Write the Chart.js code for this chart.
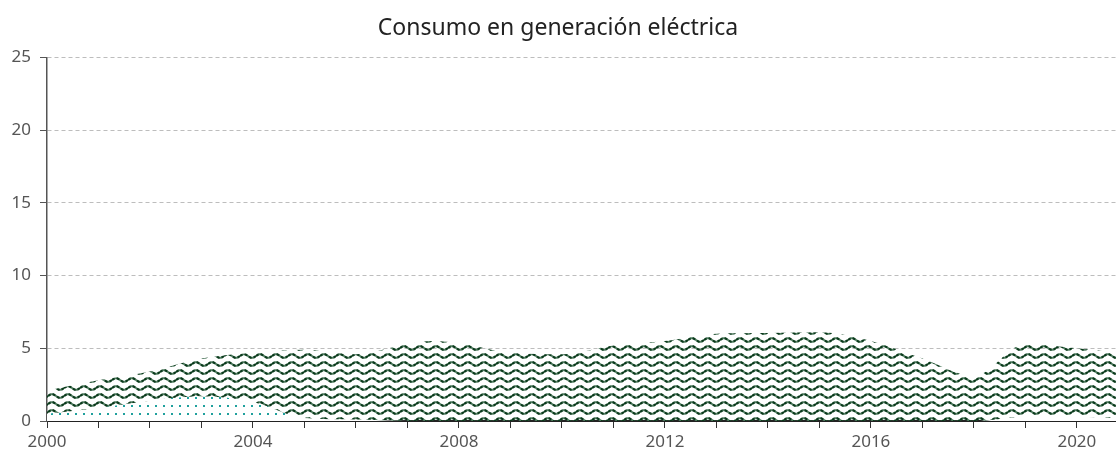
<!DOCTYPE html>
<html>
<head>
<meta charset="utf-8">
<script src="https://cdn.jsdelivr.net/npm/chart.js@4"></script>
<style>
  html, body { margin: 0; padding: 0; background: #fff; }
  #wrap { width: 1116px; height: 455px; }
</style>
</head>
<body>
<div id="wrap"><canvas id="chart"></canvas></div>
<script>
// ====== DATA ======
const years = [2000, 2001, 2002, 2003, 2004, 2005, 2006, 2007, 2007.5, 2008, 2009, 2010,
  2011, 2012, 2013, 2014, 2015, 2016, 2017, 2018, 2019, 2020, 2020.76];
const gasValues = [2.1, 2.8, 3.4, 4.3, 4.7, 4.9, 4.6, 5.3, 5.5, 5.35, 4.7, 4.6,
  5.2, 5.5, 6.0, 6.05, 6.1, 5.5, 4.3, 3.1, 5.3, 5.0, 4.7];
const fuelValues = [0.5, 0.9, 1.4, 1.7, 1.3, 0.2, 0.1, 0, 0, 0, 0, 0,
  0, 0, 0, 0, 0, 0, 0, 0, 0.3, 0.3, 0.2];
const tickYears = [2000, 2004, 2008, 2012, 2016, 2020];

const FONT = "'Noto Sans', 'Open Sans', sans-serif";

// ====== PATTERNS ======
function wavePattern() {
  const c = document.createElement("canvas");
  c.width = 16; c.height = 8;
  const g = c.getContext("2d");
  g.lineWidth = 2;
  g.beginPath();
  for (let x = 0; x <= 16; x += 0.5) {
    const y = 4 - 1.8 * Math.sin((x / 16) * Math.PI * 2);
    if (x === 0) g.moveTo(x, y); else g.lineTo(x, y);
  }
  g.strokeStyle = "#527f62";
  g.stroke();
  g.setLineDash([3, 2]);
  g.strokeStyle = "#0b3a1c";
  g.stroke();
  return g.createPattern(c, "repeat");
}

function dotPattern() {
  // opaque white ground so the waves underneath are hidden
  const c = document.createElement("canvas");
  c.width = 8; c.height = 8;
  const g = c.getContext("2d");
  g.fillStyle = "#fff";
  g.fillRect(0, 0, 8, 8);
  g.fillStyle = "#1fa09d";
  g.fillRect(3, 5, 2, 2);
  return g.createPattern(c, "repeat");
}

const gasData = years.map((x, i) => ({ x, y: gasValues[i] }));
const fuelData = years.map((x, i) => ({ x, y: fuelValues[i] }));

// ====== CHART ======
new Chart(document.getElementById("chart"), {
  type: "line",
  data: {
    datasets: [
      {
        label: "Fuelóleo",
        data: fuelData,
        fill: "origin",
        backgroundColor: dotPattern(),
        borderWidth: 0,
        pointRadius: 0,
        cubicInterpolationMode: "monotone"
      },
      {
        label: "Gas natural",
        data: gasData,
        fill: "origin",
        backgroundColor: wavePattern(),
        borderWidth: 0,
        pointRadius: 0,
        cubicInterpolationMode: "monotone"
      }
    ]
  },
  options: {
    responsive: true,
    maintainAspectRatio: false,
    animation: false,
    plugins: {
      legend: { display: false },
      tooltip: { enabled: false },
      title: {
        display: true,
        text: "Consumo en generación eléctrica",
        color: "#222",
        font: { family: FONT, size: 23, weight: "normal" },
        padding: { top: 15, bottom: 15 }
      }
    },
    scales: {
      x: {
        type: "linear",
        min: 2000,
        max: 2020.76,
        afterFit: s => { s.height = 34; },
        border: { color: "#222", width: 2 },
        grid: { drawOnChartArea: false, drawTicks: true, tickLength: 7, tickColor: "#333" },
        ticks: {
          stepSize: 1,
          autoSkip: false,
          includeBounds: false,
          maxRotation: 0,
          color: "#555",
          padding: 4,
          font: { family: FONT, size: 17 },
          callback: v => tickYears.includes(v) ? String(v) : ""
        }
      },
      y: {
        min: 0,
        max: 25,
        afterFit: s => { s.width = 47; },
        border: { color: "#555", width: 1.5, dash: [4, 3] },
        grid: { color: "#bdbdbd", tickColor: "#555", tickLength: 7, tickBorderDash: [] },
        ticks: {
          stepSize: 5,
          color: "#555",
          padding: 9,
          font: { family: FONT, size: 17 }
        }
      }
    }
  }
});
</script>
</body>
</html>
